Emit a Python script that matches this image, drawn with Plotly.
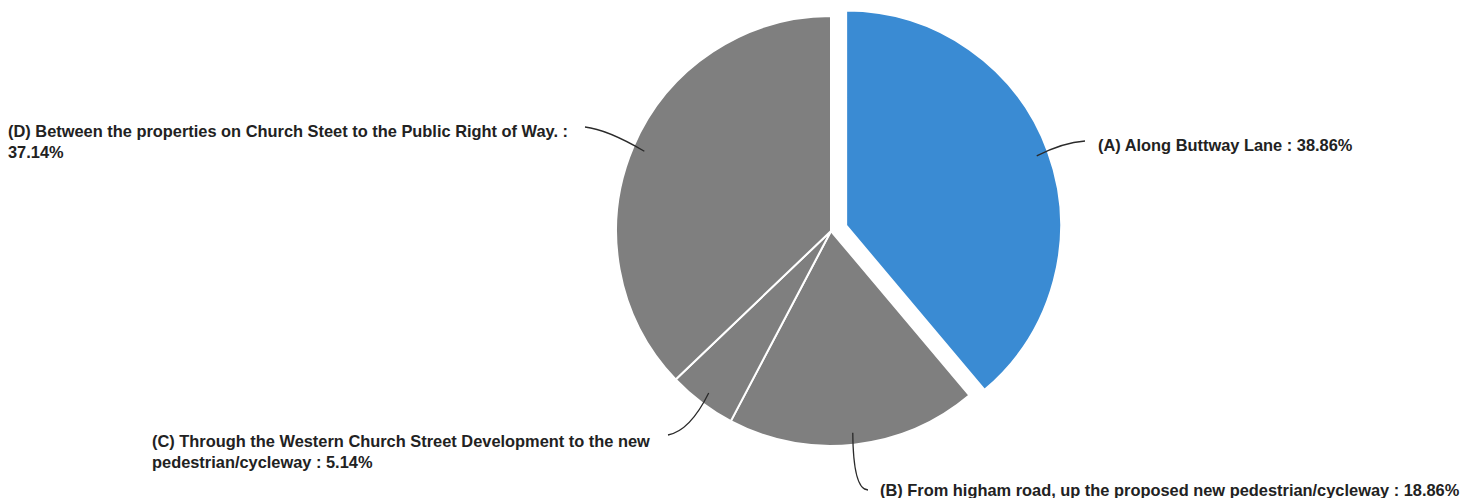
import math
import plotly.graph_objects as go

# Route options and their share of responses (%)
labels = [
    "(A) Along Buttway Lane",
    "(B) From higham road, up the proposed new pedestrian/cycleway",
    "(C) Through the Western Church Street Development to the new pedestrian/cycleway",
    "(D) Between the properties on Church Steet to the Public Right of Way.",
]
values = [38.86, 18.86, 5.14, 37.14]
colors = ["#3a8bd3", "#7f7f7f", "#7f7f7f", "#7f7f7f"]
pulls = [0.075, 0, 0, 0]

# Label text, split into the lines it is drawn on
label_lines = [
    ["(A) Along Buttway Lane : 38.86%"],
    ["(B) From higham road, up the proposed new pedestrian/cycleway : 18.86%"],
    ["(C) Through the Western Church Street Development to the new",
     "pedestrian/cycleway : 5.14%"],
    ["(D) Between the properties on Church Steet to the Public Right of Way. :",
     "37.14%"],
]

W, H = 1480, 498
CX, CY, R = 831, 231, 215          # pie centre and radius in pixels
PULL_PX = 16

# Where each label's first line sits (pixels) and where its leader line ends
label_pos = [(1096, 145), (878, 490), (150, 441), (6, 131)]
leader_end = [(1085, 141), (868, 490), (668, 435), (585, 127)]
line_gap = 20.5


def px(x, y):
    return x / W, 1 - y / H


fig = go.Figure(go.Pie(
    labels=labels,
    values=values,
    sort=False,
    direction="clockwise",
    rotation=0,
    pull=pulls,
    marker=dict(colors=colors, line=dict(color="white", width=2)),
    textinfo="none",
    hoverinfo="label+percent",
    showlegend=False,
    domain=dict(x=[(CX - 300) / W, (CX + 300) / W], y=[1 - (CY + 231) / H, 1]),
))

shapes = []
annotations = []
total = sum(values)
start = 0.0
for i, v in enumerate(values):
    mid = start + v / total * 360 / 2
    start += v / total * 360
    a = math.radians(mid)
    dx, dy = math.sin(a), -math.cos(a)
    ox = dx * PULL_PX * (pulls[i] > 0)
    oy = dy * PULL_PX * (pulls[i] > 0)
    sx, sy = CX + ox + dx * (R - 12), CY + oy + dy * (R - 12)
    ex, ey = leader_end[i]
    # leave the pie radially and arrive at the label horizontally
    side = 1 if ex > sx else -1
    if abs(dy) > 0.9:
        cx_, cy_ = sx + dx * 4, ey
    else:
        cx_, cy_ = ex - side * 22, ey + (sy - ey) * 0.1
    p0, p1, p2 = px(sx, sy), px(cx_, cy_), px(ex, ey)
    shapes.append(dict(
        type="path", xref="paper", yref="paper",
        path=f"M {p0[0]} {p0[1]} Q {p1[0]} {p1[1]} {p2[0]} {p2[1]}",
        line=dict(color="#2a2a2a", width=1.3),
    ))
    lx, ly = label_pos[i]
    for j, line in enumerate(label_lines[i]):
        x, y = px(lx, ly + j * line_gap)
        annotations.append(dict(
            x=x, y=y, xref="paper", yref="paper",
            xanchor="left", yanchor="middle",
            text=f"<b>{line}</b>", showarrow=False,
            font=dict(family="Liberation Sans, Arial, sans-serif", size=16.4, color="#222222"),
        ))

fig.update_layout(
    width=W, height=H,
    margin=dict(l=0, r=0, t=0, b=0),
    paper_bgcolor="white",
    plot_bgcolor="white",
    shapes=shapes,
    annotations=annotations,
)

fig.write_html("out.html")
